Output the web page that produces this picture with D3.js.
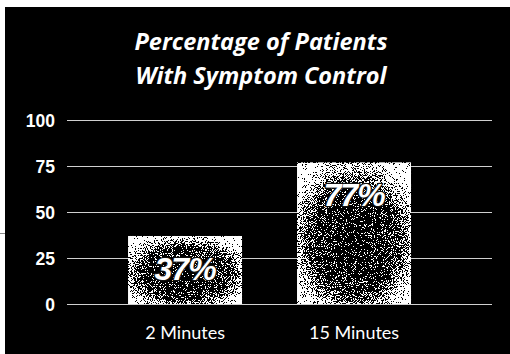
<!DOCTYPE html>
<html>
<head>
<meta charset="utf-8">
<script src="https://cdn.jsdelivr.net/npm/d3@7/dist/d3.min.js"></script>
<style>
  html, body { margin: 0; padding: 0; background: #fff; }
  svg { display: block; }
</style>
</head>
<body>
<svg id="chart" width="510" height="354"></svg>
<script>
// Data
const categories = ["2 Minutes", "15 Minutes"];
const values = [37, 77];
const valueLabels = ["37%", "77%"];
const yTicks = [0, 25, 50, 75, 100];
const titleLines = ["Percentage of Patients", "With Symptom Control"];

const svg = d3.select("#chart");
const W = 510, H = 354;

// Black panel
svg.append("rect").attr("x", 5).attr("y", 7).attr("width", W - 5).attr("height", H - 7).attr("fill", "#000");
svg.append("line").attr("x1", 0).attr("x2", 5).attr("y1", 233.5).attr("y2", 233.5)
  .attr("stroke", "#888").attr("stroke-width", 1);

// Grain filter: dithers the gradient fill into black/white speckle
const defs = svg.append("defs");
const f = defs.append("filter").attr("id", "grain")
  .attr("x", 0).attr("y", 0).attr("width", 1).attr("height", 1)
  .attr("color-interpolation-filters", "sRGB");
f.append("feTurbulence").attr("type", "fractalNoise").attr("baseFrequency", 1.1)
  .attr("numOctaves", 2).attr("seed", 7).attr("result", "noise");
f.append("feColorMatrix").attr("in", "noise").attr("type", "matrix")
  .attr("values", "2.2 0 0 0 -0.6  2.2 0 0 0 -0.6  2.2 0 0 0 -0.6  0 0 0 0 1")
  .attr("result", "gnoise");
f.append("feComposite").attr("in", "SourceGraphic").attr("in2", "gnoise")
  .attr("operator", "arithmetic").attr("k1", 0).attr("k2", 1).attr("k3", 1).attr("k4", -0.5)
  .attr("result", "sum");
const ct = f.append("feComponentTransfer").attr("in", "sum").attr("result", "bw");
["feFuncR", "feFuncG", "feFuncB"].forEach(n => ct.append(n).attr("type", "discrete").attr("tableValues", "0 1"));
f.append("feComposite").attr("in", "bw").attr("in2", "SourceGraphic").attr("operator", "in");

const grad = defs.append("radialGradient").attr("id", "barFill")
  .attr("cx", 0.5).attr("cy", 0.55).attr("r", 0.62);
grad.append("stop").attr("offset", "0%").attr("stop-color", "#2a2a2a");
grad.append("stop").attr("offset", "60%").attr("stop-color", "#4a4a4a");
grad.append("stop").attr("offset", "100%").attr("stop-color", "#e8e8e8");

// Scales
const y = d3.scaleLinear().domain([0, 100]).range([304, 120]);
const x = d3.scaleBand().domain(categories).range([67, 492])
  .paddingInner(0.325).paddingOuter(0.42).align(0.43);

// Title
svg.append("text")
  .attr("x", 261).attr("y", 50)
  .attr("text-anchor", "middle")
  .attr("fill", "#fff")
  .style("font-family", "'Open Sans', sans-serif")
  .style("font-weight", 700).style("font-style", "italic").style("font-size", "23.5px")
  .selectAll("tspan").data(titleLines).join("tspan")
  .attr("x", 261).attr("dy", (d, i) => i === 0 ? 0 : 34)
  .text(d => d);

// Y axis with gridlines
const yAxis = svg.append("g").attr("transform", "translate(67,0)")
  .call(d3.axisLeft(y).tickValues(yTicks).tickSize(-(492 - 67)).tickPadding(12));
yAxis.select(".domain").remove();
yAxis.selectAll(".tick line").attr("stroke", "#d0d0d0").attr("stroke-width", 1.2);
yAxis.selectAll(".tick text")
  .attr("fill", "#fff").attr("dy", "0.36em")
  .style("font-family", "'Liberation Sans', Arial, sans-serif")
  .style("font-weight", 700).style("font-size", "17.5px");

// X axis labels
const xAxis = svg.append("g").attr("transform", "translate(0,339)")
  .call(d3.axisBottom(x).tickSize(0).tickPadding(0));
xAxis.select(".domain").remove();
xAxis.selectAll(".tick text")
  .attr("fill", "#fff").attr("dy", 0).attr("y", 0)
  .style("font-family", "Lato, sans-serif")
  .style("font-weight", 400).style("font-size", "18px");

// Bars
const rows = categories.map((c, i) => ({ c, v: values[i], label: valueLabels[i] }));
svg.append("g").selectAll("rect").data(rows).join("rect")
  .attr("x", d => x(d.c)).attr("width", x.bandwidth())
  .attr("y", d => y(d.v)).attr("height", d => y(0) - y(d.v))
  .attr("fill", "url(#barFill)")
  .attr("filter", "url(#grain)");

// Value labels, with a dark outline so they stand out from the grain
svg.append("g").selectAll("text").data(rows).join("text")
  .attr("x", d => x(d.c) + x.bandwidth() / 2)
  .attr("y", d => y(d.v) + 44)
  .attr("text-anchor", "middle")
  .attr("fill", "#fff")
  .attr("stroke", "#111").attr("stroke-width", 2.5)
  .attr("stroke-linejoin", "round")
  .style("paint-order", "stroke")
  .style("font-family", "'Liberation Sans', Arial, sans-serif")
  .style("font-weight", 700).style("font-style", "italic").style("font-size", "32px")
  .style("letter-spacing", "-1px")
  .text(d => d.label);
</script>
</body>
</html>
